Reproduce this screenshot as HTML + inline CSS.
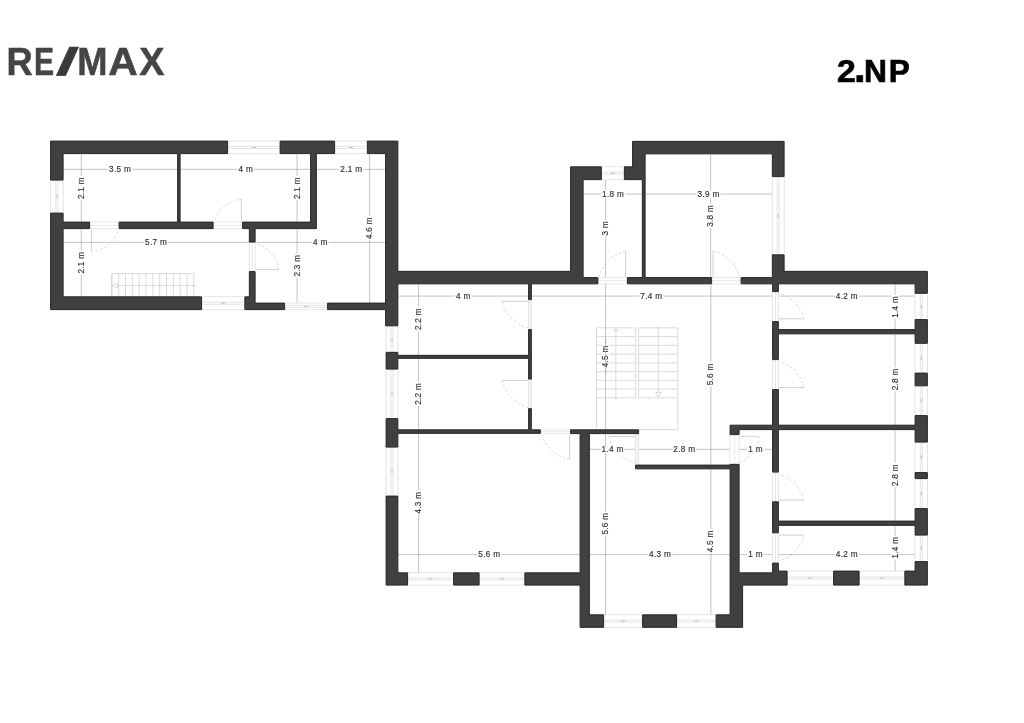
<!DOCTYPE html>
<html lang="cs"><head><meta charset="utf-8"><title>2.NP</title>
<style>html,body{margin:0;padding:0;background:#fff}body{width:1024px;height:723px;overflow:hidden;font-family:"Liberation Sans",sans-serif}svg{display:block;filter:grayscale(1)}.d{font-family:"Liberation Sans",sans-serif;font-size:8.2px;fill:#303030;text-anchor:middle;letter-spacing:0.3px;stroke:#303030;stroke-width:0.15}.w{fill:#404040;stroke:#262626;stroke-width:1;stroke-linejoin:miter}.dl{stroke:#a4a4a4;stroke-width:0.65;fill:none}.wl{stroke:#dcdcdc;stroke-width:0.8;fill:none}.dr{stroke:#bcbcbc;stroke-width:0.7;fill:none}.gf{stroke:#dcdcdc;stroke-width:0.7;fill:none}.da{stroke:#d0d0d0;stroke-width:0.8;fill:none;stroke-dasharray:2.6 2}.st{stroke:#cccccc;stroke-width:0.7;fill:none}</style></head><body>
<svg width="1024" height="723" viewBox="0 0 1024 723">
<rect width="1024" height="723" fill="#fff"/>
<g font-family="Liberation Sans, sans-serif" font-weight="700">
<g id="logo"><text transform="translate(6.5,75) scale(0.94,1)" font-size="38.6" fill="#454545" stroke="#454545" stroke-width="0.5">R</text><text transform="translate(34.0,75) scale(0.78,1)" font-size="38.6" fill="#454545" stroke="#454545" stroke-width="0.5">E</text><text transform="translate(55.7,75) skewX(-5) scale(1.95,1)" font-size="38.6" fill="#3a3a3a" stroke="#3a3a3a" stroke-width="0.5">/</text><text transform="translate(77.3,75) scale(0.94,1)" font-size="38.6" fill="#454545" stroke="#454545" stroke-width="0.5">M</text><text transform="translate(108.3,75) scale(1.06,1)" font-size="38.6" fill="#454545" stroke="#454545" stroke-width="0.5">A</text><text transform="translate(139.2,75) scale(0.98,1)" font-size="38.6" fill="#454545" stroke="#454545" stroke-width="0.5">X</text></g>
<g id="np"><text transform="translate(836.9,82.2) scale(1.08,1)" font-size="31.2" fill="#000" stroke="#000" stroke-width="0.7">2</text><text transform="translate(854.1,82.2) scale(1.0,1)" font-size="42" fill="#000" stroke="#000" stroke-width="0.7">.</text><text transform="translate(864.1,82.2) scale(1.02,1)" font-size="31.2" fill="#000" stroke="#000" stroke-width="0.7">N</text><text transform="translate(888.8,82.2) scale(1.01,1)" font-size="31.2" fill="#000" stroke="#000" stroke-width="0.7">P</text></g>
</g>
<g transform="translate(0.1,0.1)">
<g class="wl">
<path d="M228 140.9H279.5M228 146.25H279.5M228 148.25H279.5M228 153.6H279.5"/>
<path d="M251.75 147.25H255.75" stroke="#c8c8c8" stroke-width="1.2"/>
<path d="M335 140.9H366.75M335 146.25H366.75M335 148.25H366.75M335 153.6H366.75"/>
<path d="M348.875 147.25H352.875" stroke="#c8c8c8" stroke-width="1.2"/>
<path d="M202 296.65H244.25M202 302.125H244.25M202 304.125H244.25M202 309.6H244.25"/>
<path d="M221.125 303.125H225.125" stroke="#c8c8c8" stroke-width="1.2"/>
<path d="M285 302.9H327M285 305.25H327M285 307.25H327M285 309.6H327"/>
<path d="M304.0 306.25H308.0" stroke="#c8c8c8" stroke-width="1.2"/>
<path d="M601.75 166.65H623.75M601.75 172.125H623.75M601.75 174.125H623.75M601.75 179.6H623.75"/>
<path d="M610.75 173.125H614.75" stroke="#c8c8c8" stroke-width="1.2"/>
<path d="M408 572.65H453M408 577.875H453M408 579.875H453M408 585.1H453"/>
<path d="M428.5 578.875H432.5" stroke="#c8c8c8" stroke-width="1.2"/>
<path d="M479.5 572.65H524.25M479.5 577.875H524.25M479.5 579.875H524.25M479.5 585.1H524.25"/>
<path d="M499.875 578.875H503.875" stroke="#c8c8c8" stroke-width="1.2"/>
<path d="M604 614.65H642M604 620.0H642M604 622.0H642M604 627.35H642"/>
<path d="M621.0 621.0H625.0" stroke="#c8c8c8" stroke-width="1.2"/>
<path d="M677 614.65H715.5M677 620.0H715.5M677 622.0H715.5M677 627.35H715.5"/>
<path d="M694.25 621.0H698.25" stroke="#c8c8c8" stroke-width="1.2"/>
<path d="M787.5 570.9H833M787.5 577.0H833M787.5 579.0H833M787.5 585.1H833"/>
<path d="M808.25 578.0H812.25" stroke="#c8c8c8" stroke-width="1.2"/>
<path d="M859.5 570.9H904.25M859.5 577.0H904.25M859.5 579.0H904.25M859.5 585.1H904.25"/>
<path d="M879.875 578.0H883.875" stroke="#c8c8c8" stroke-width="1.2"/>
<path d="M50.4 180.5V212.5M55.75 180.5V212.5M57.75 180.5V212.5M63.1 180.5V212.5"/>
<path d="M56.75 194.5V198.5" stroke="#c8c8c8" stroke-width="1.2"/>
<path d="M385.9 326.25V352.25M390.875 326.25V352.25M392.875 326.25V352.25M397.85 326.25V352.25"/>
<path d="M391.875 337.25V341.25" stroke="#c8c8c8" stroke-width="1.2"/>
<path d="M385.9 369.5V418M390.875 369.5V418M392.875 369.5V418M397.85 369.5V418"/>
<path d="M391.875 391.75V395.75" stroke="#c8c8c8" stroke-width="1.2"/>
<path d="M385.9 447.5V495.5M390.875 447.5V495.5M392.875 447.5V495.5M397.85 447.5V495.5"/>
<path d="M391.875 469.5V473.5" stroke="#c8c8c8" stroke-width="1.2"/>
<path d="M772.15 177V254.25M777.125 177V254.25M779.125 177V254.25M784.1 177V254.25"/>
<path d="M778.125 213.625V217.625" stroke="#c8c8c8" stroke-width="1.2"/>
<path d="M914.9 293.75V319.5M920.125 293.75V319.5M922.125 293.75V319.5M927.35 293.75V319.5"/>
<path d="M921.125 304.625V308.625" stroke="#c8c8c8" stroke-width="1.2"/>
<path d="M914.9 343.75V372.5M920.125 343.75V372.5M922.125 343.75V372.5M927.35 343.75V372.5"/>
<path d="M921.125 356.125V360.125" stroke="#c8c8c8" stroke-width="1.2"/>
<path d="M914.9 386.25V415M920.125 386.25V415M922.125 386.25V415M927.35 386.25V415"/>
<path d="M921.125 398.625V402.625" stroke="#c8c8c8" stroke-width="1.2"/>
<path d="M914.9 442.5V472M920.125 442.5V472M922.125 442.5V472M927.35 442.5V472"/>
<path d="M921.125 455.25V459.25" stroke="#c8c8c8" stroke-width="1.2"/>
<path d="M914.9 479V508M920.125 479V508M922.125 479V508M927.35 479V508"/>
<path d="M921.125 491.5V495.5" stroke="#c8c8c8" stroke-width="1.2"/>
<path d="M914.9 535.5V561M920.125 535.5V561M922.125 535.5V561M927.35 535.5V561"/>
<path d="M921.125 546.25V550.25" stroke="#c8c8c8" stroke-width="1.2"/>
</g>
<g class="st">
<path d="M111.75 273.5H193.75M111.75 273.5V296.25"/>
<path d="M111.75 273.5V296.25"/>
<path d="M118.58 273.5V296.25"/>
<path d="M125.42 273.5V296.25"/>
<path d="M132.25 273.5V296.25"/>
<path d="M139.08 273.5V296.25"/>
<path d="M145.92 273.5V296.25"/>
<path d="M152.75 273.5V296.25"/>
<path d="M159.58 273.5V296.25"/>
<path d="M166.42 273.5V296.25"/>
<path d="M173.25 273.5V296.25"/>
<path d="M180.08 273.5V296.25"/>
<path d="M186.92 273.5V296.25"/>
<path d="M193.75 273.5V296.25"/>
<path d="M116.75 285.5H193.75"/>
<path d="M117.25 283L112.25 285.5L117.25 288Z"/>
<circle cx="193.75" cy="285.5" r="0.9"/>
<path d="M596.5 327.75V428.75M677.75 327.75V429.5H639"/>
<path d="M635.5 327.75V397.75M638.5 327.75V397.75"/>
<path d="M596.5 327.75H635.5M638.5 327.75H677.75"/>
<path d="M596.5 336.5H635.5M638.5 336.5H677.75"/>
<path d="M596.5 345.25H635.5M638.5 345.25H677.75"/>
<path d="M596.5 354.0H635.5M638.5 354.0H677.75"/>
<path d="M596.5 362.75H635.5M638.5 362.75H677.75"/>
<path d="M596.5 371.5H635.5M638.5 371.5H677.75"/>
<path d="M596.5 380.25H635.5M638.5 380.25H677.75"/>
<path d="M596.5 389.0H635.5M638.5 389.0H677.75"/>
<path d="M596.5 397.75H635.5M638.5 397.75H677.75"/>
<path d="M615.75 397.75V328.5M613.3 332L615.75 328.5L618.2 332"/>
<circle cx="615.75" cy="397.75" r="0.9"/>
<path d="M658.25 327.75V392.5M655.5 392.3H661L658.25 397.5Z"/>
<circle cx="658.25" cy="327.75" r="0.9"/>
</g>
<path class="gf" d="M90 221.9H118.5M90 225.25H118.5M90 228.6H118.5"/>
<path class="dr" d="M91.25 229L91.25 251.5"/>
<path class="da" d="M91.25 251.5A31.499999999999996 31.499999999999996 0 0 0 118.5 229"/>
<path class="gf" d="M213.5 221.9H242M213.5 225.25H242M213.5 228.6H242"/>
<path class="dr" d="M241.25 221.5L241.25 199"/>
<path class="da" d="M241.25 199A31.499999999999996 31.499999999999996 0 0 0 214.5 221.5"/>
<path class="gf" d="M249.15 242.5V271M252.125 242.5V271M255.1 242.5V271"/>
<path class="dr" d="M255.5 269.5L278.5 269.5"/>
<path class="da" d="M278.5 269.5A32.199999999999996 32.199999999999996 0 0 0 255.5 243"/>
<path class="gf" d="M598.25 277.4H626.75M598.25 280.625H626.75M598.25 283.85H626.75"/>
<path class="dr" d="M625.5 277L625.5 251"/>
<path class="da" d="M625.5 251A36.4 36.4 0 0 0 599 277"/>
<path class="gf" d="M712 277.4H740.5M712 280.625H740.5M712 283.85H740.5"/>
<path class="dr" d="M713 277L713 251"/>
<path class="da" d="M713 251A36.4 36.4 0 0 1 739.5 277"/>
<path class="gf" d="M528.4 300V329M529.875 300V329M531.35 300V329"/>
<path class="dr" d="M528 301.25L502 301.25"/>
<path class="da" d="M502 301.25A36.4 36.4 0 0 0 528 328"/>
<path class="gf" d="M528.4 379.5V408M529.875 379.5V408M531.35 379.5V408"/>
<path class="dr" d="M528 380.5L502 380.5"/>
<path class="da" d="M502 380.5A36.4 36.4 0 0 0 528 407.5"/>
<path class="gf" d="M540.75 429.65H570M540.75 431.5H570M540.75 433.35H570"/>
<path class="dr" d="M569.5 433.75L569.5 459.5"/>
<path class="da" d="M569.5 459.5A36.05 36.05 0 0 1 541.5 433.75"/>
<path class="gf" d="M635.4 434V464.5M637.0 434V464.5M638.6 434V464.5"/>
<path class="dr" d="M635 436.25L608.75 436.25"/>
<path class="da" d="M608.75 436.25A36.75 36.75 0 0 0 635 463"/>
<path class="gf" d="M729.9 435V463.75M734.5 435V463.75M739.1 435V463.75"/>
<path class="dr" d="M739.5 436.25L758.75 436.25"/>
<path class="da" d="M758.75 436.25A26.95 26.95 0 0 1 739.5 462"/>
<path class="gf" d="M772.4 292V321M775.375 292V321M778.35 292V321"/>
<path class="dr" d="M778.75 318.75L803.75 318.75"/>
<path class="da" d="M803.75 318.75A35.0 35.0 0 0 0 778.75 293"/>
<path class="gf" d="M772.4 360V389M775.375 360V389M778.35 360V389"/>
<path class="dr" d="M778.75 387.5L803.75 387.5"/>
<path class="da" d="M803.75 387.5A35.0 35.0 0 0 0 778.75 361.5"/>
<path class="gf" d="M772.4 472.5V501.25M775.375 472.5V501.25M778.35 472.5V501.25"/>
<path class="dr" d="M778.75 500L803.75 500"/>
<path class="da" d="M803.75 500A35.0 35.0 0 0 0 778.75 474"/>
<path class="gf" d="M772.4 533.25V562.5M775.375 533.25V562.5M778.35 533.25V562.5"/>
<path class="dr" d="M778.75 535L803.75 535"/>
<path class="da" d="M803.75 535A35.0 35.0 0 0 1 778.75 561"/>
<g class="dl">
<path d="M63.5 169.25H177"/>
<path d="M180.5 169.25H310"/>
<path d="M316.75 169.25H385"/>
<path d="M63.5 242.25H248.75"/>
<path d="M255.5 242.25H385"/>
<path d="M583.5 194H641.75"/>
<path d="M645.5 194H771.75"/>
<path d="M398.25 296H528"/>
<path d="M531.75 296H772"/>
<path d="M778.75 296H914.5"/>
<path d="M589.75 449.25H635"/>
<path d="M639 449.25H729.5"/>
<path d="M739.5 449.25H772"/>
<path d="M398.25 554.5H579.5"/>
<path d="M589.75 554.5H729.5"/>
<path d="M739.5 554.5H772"/>
<path d="M778.75 554.5H914.5"/>
<path d="M81.25 154V221.5"/>
<path d="M81.25 229V296.25"/>
<path d="M297 154V221.5"/>
<path d="M297 229V302.5"/>
<path d="M369.5 154V302.5"/>
<path d="M605.5 180V277"/>
<path d="M710.5 154.25V277"/>
<path d="M418.5 284.25V354.75"/>
<path d="M418.5 358.75V429.25"/>
<path d="M418.5 433.75V572.25"/>
<path d="M605.5 284.25V429.25"/>
<path d="M605.5 434V614.25"/>
<path d="M710.75 284.25V464.5"/>
<path d="M710.75 469.25V614.25"/>
<path d="M895 284.25V329"/>
<path d="M895 334.25V425"/>
<path d="M895 430.5V520.5"/>
<path d="M895 525.75V570.5"/>
</g>
<path class="w" fill-rule="evenodd" d="M927.25 585L927.25 561.5L915 561.5L915 571L904.75 571L904.75 585ZM927.25 478.5L927.25 472.5L915 472.5L915 478.5ZM915 535L927.25 535L927.25 508.5L915 508.5L915 521L778.25 521L778.25 501.75L772.5 501.75L772.5 532.75L778.25 532.75L778.25 525.25L915 525.25ZM915 385.75L927.25 385.75L927.25 373L915 373ZM772.5 359.5L778.25 359.5L778.25 333.75L915 333.75L915 343.25L927.25 343.25L927.25 319.5L915 319.5L915 329.5L778.25 329.5L778.25 321.5L772.5 321.5ZM772.5 283.75L772.5 291.5L778.25 291.5L778.25 283.75L915 283.75L915 293.25L927.25 293.25L927.25 271.25L784 271.25L784 254.75L772.25 254.75L772.25 277.5L741 277.5L741 283.75ZM730 434.5L739 434.5L739 429.5L772.5 429.5L772.5 472L778.25 472L778.25 429.5L915 429.5L915 442L927.25 442L927.25 415.5L915 415.5L915 425.1L778.25 425.1L778.25 389.5L772.5 389.5L772.5 425.1L730 425.1ZM833.5 585L859 585L859 571L833.5 571ZM730 614.75L716 614.75L716 627.25L742.5 627.25L742.5 585L787 585L787 571L778.25 571L778.25 563L772.5 563L772.5 572.75L739 572.75L739 464.25L730 464.25L730 465L635.5 465L635.5 468.75L730 468.75ZM632.5 166.75L624.25 166.75L624.25 179.5L642.25 179.5L642.25 277.5L627.25 277.5L627.25 283.75L711.5 283.75L711.5 277.5L645 277.5L645 153.75L772.25 153.75L772.25 176.5L784 176.5L784 141.25L632.5 141.25ZM642.5 627.25L676.5 627.25L676.5 614.75L642.5 614.75ZM524.75 585L580 585L580 627.25L603.5 627.25L603.5 614.75L589.25 614.75L589.25 433.5L638.5 433.5L638.5 429.75L570.5 429.75L570.5 433.5L580 433.5L580 572.75L524.75 572.75ZM367.25 141L367.25 153.5L385.5 153.5L385.5 303L327.5 303L327.5 309.5L385.5 309.5L385.5 325.75L397.75 325.75L397.75 283.75L528.5 283.75L528.5 299.5L531.25 299.5L531.25 283.75L597.75 283.75L597.75 277.5L583 277.5L583 179.5L601.25 179.5L601.25 166.75L570.5 166.75L570.5 271.25L397.75 271.25L397.75 141ZM386 447L397.75 447L397.75 433.25L540.25 433.25L540.25 429.75L531.25 429.75L531.25 408.5L528.5 408.5L528.5 429.75L397.75 429.75L397.75 418.5L386 418.5ZM386 369L397.75 369L397.75 358.25L528.5 358.25L528.5 379L531.25 379L531.25 329.5L528.5 329.5L528.5 355.25L397.75 355.25L397.75 352.25L386 352.25ZM453.5 585L479 585L479 572.75L453.5 572.75ZM397.75 572.75L397.75 496L386 496L386 585L407.5 585L407.5 572.75ZM242.5 228.5L249.25 228.5L249.25 242L255 242L255 228.5L316.25 228.5L316.25 153.5L334.5 153.5L334.5 141L280 141L280 153.5L310.5 153.5L310.5 222L242.5 222ZM284.5 309.5L284.5 303L255 303L255 271.5L249.25 271.5L249.25 296.75L244.75 296.75L244.75 309.5ZM177.5 153.5L177.5 222L119 222L119 228.5L213 228.5L213 222L180 222L180 153.5L227.5 153.5L227.5 141L50.5 141L50.5 180L63 180L63 153.5ZM63 213L50.5 213L50.5 309.5L201.5 309.5L201.5 296.75L63 296.75L63 228.5L89.5 228.5L89.5 222L63 222Z"/>
<rect x="107.93" y="165.75" width="24.15" height="7" fill="#fff"/>
<text class="d" x="120" y="172.15">3.5 m</text>
<rect x="237.37" y="165.75" width="16.76" height="7" fill="#fff"/>
<text class="d" x="245.75" y="172.15">4 m</text>
<rect x="339.18" y="165.75" width="24.15" height="7" fill="#fff"/>
<text class="d" x="351.25" y="172.15">2.1 m</text>
<rect x="143.93" y="238.75" width="24.15" height="7" fill="#fff"/>
<text class="d" x="156" y="245.15">5.7 m</text>
<rect x="311.87" y="238.75" width="16.76" height="7" fill="#fff"/>
<text class="d" x="320.25" y="245.15">4 m</text>
<rect x="600.93" y="190.50" width="24.15" height="7" fill="#fff"/>
<text class="d" x="613" y="196.90">1.8 m</text>
<rect x="696.43" y="190.50" width="24.15" height="7" fill="#fff"/>
<text class="d" x="708.5" y="196.90">3.9 m</text>
<rect x="454.87" y="292.50" width="16.76" height="7" fill="#fff"/>
<text class="d" x="463.25" y="298.90">4 m</text>
<rect x="639.18" y="292.50" width="24.15" height="7" fill="#fff"/>
<text class="d" x="651.25" y="298.90">7.4 m</text>
<rect x="834.68" y="292.50" width="24.15" height="7" fill="#fff"/>
<text class="d" x="846.75" y="298.90">4.2 m</text>
<rect x="600.43" y="445.75" width="24.15" height="7" fill="#fff"/>
<text class="d" x="612.5" y="452.15">1.4 m</text>
<rect x="672.18" y="445.75" width="24.15" height="7" fill="#fff"/>
<text class="d" x="684.25" y="452.15">2.8 m</text>
<rect x="747.12" y="445.75" width="16.76" height="7" fill="#fff"/>
<text class="d" x="755.5" y="452.15">1 m</text>
<rect x="477.18" y="551.00" width="24.15" height="7" fill="#fff"/>
<text class="d" x="489.25" y="557.40">5.6 m</text>
<rect x="647.93" y="551.00" width="24.15" height="7" fill="#fff"/>
<text class="d" x="660" y="557.40">4.3 m</text>
<rect x="747.12" y="551.00" width="16.76" height="7" fill="#fff"/>
<text class="d" x="755.5" y="557.40">1 m</text>
<rect x="834.68" y="551.00" width="24.15" height="7" fill="#fff"/>
<text class="d" x="846.75" y="557.40">4.2 m</text>
<rect x="77.75" y="175.93" width="7" height="24.15" fill="#fff"/>
<text class="d" transform="translate(83.75,188) rotate(-90)" x="0" y="0">2.1 m</text>
<rect x="77.75" y="250.43" width="7" height="24.15" fill="#fff"/>
<text class="d" transform="translate(83.75,262.5) rotate(-90)" x="0" y="0">2.1 m</text>
<rect x="293.50" y="175.93" width="7" height="24.15" fill="#fff"/>
<text class="d" transform="translate(299.50,188) rotate(-90)" x="0" y="0">2.1 m</text>
<rect x="293.50" y="253.43" width="7" height="24.15" fill="#fff"/>
<text class="d" transform="translate(299.50,265.5) rotate(-90)" x="0" y="0">2.3 m</text>
<rect x="366.00" y="215.93" width="7" height="24.15" fill="#fff"/>
<text class="d" transform="translate(372.00,228) rotate(-90)" x="0" y="0">4.6 m</text>
<rect x="602.00" y="219.62" width="7" height="16.76" fill="#fff"/>
<text class="d" transform="translate(608.00,228) rotate(-90)" x="0" y="0">3 m</text>
<rect x="707.00" y="203.68" width="7" height="24.15" fill="#fff"/>
<text class="d" transform="translate(713.00,215.75) rotate(-90)" x="0" y="0">3.8 m</text>
<rect x="415.00" y="306.93" width="7" height="24.15" fill="#fff"/>
<text class="d" transform="translate(421.00,319) rotate(-90)" x="0" y="0">2.2 m</text>
<rect x="415.00" y="381.68" width="7" height="24.15" fill="#fff"/>
<text class="d" transform="translate(421.00,393.75) rotate(-90)" x="0" y="0">2.2 m</text>
<rect x="415.00" y="490.43" width="7" height="24.15" fill="#fff"/>
<text class="d" transform="translate(421.00,502.5) rotate(-90)" x="0" y="0">4.3 m</text>
<rect x="602.00" y="344.18" width="7" height="24.15" fill="#fff"/>
<text class="d" transform="translate(608.00,356.25) rotate(-90)" x="0" y="0">4.5 m</text>
<rect x="602.00" y="511.43" width="7" height="24.15" fill="#fff"/>
<text class="d" transform="translate(608.00,523.5) rotate(-90)" x="0" y="0">5.6 m</text>
<rect x="707.25" y="362.18" width="7" height="24.15" fill="#fff"/>
<text class="d" transform="translate(713.25,374.25) rotate(-90)" x="0" y="0">5.6 m</text>
<rect x="707.25" y="529.18" width="7" height="24.15" fill="#fff"/>
<text class="d" transform="translate(713.25,541.25) rotate(-90)" x="0" y="0">4.5 m</text>
<rect x="891.50" y="294.68" width="7" height="24.15" fill="#fff"/>
<text class="d" transform="translate(897.50,306.75) rotate(-90)" x="0" y="0">1.4 m</text>
<rect x="891.50" y="367.18" width="7" height="24.15" fill="#fff"/>
<text class="d" transform="translate(897.50,379.25) rotate(-90)" x="0" y="0">2.8 m</text>
<rect x="891.50" y="462.93" width="7" height="24.15" fill="#fff"/>
<text class="d" transform="translate(897.50,475) rotate(-90)" x="0" y="0">2.8 m</text>
<rect x="891.50" y="535.43" width="7" height="24.15" fill="#fff"/>
<text class="d" transform="translate(897.50,547.5) rotate(-90)" x="0" y="0">1.4 m</text>
<path class="dl" d="M605.5 338V374"/>
</g>
</svg></body></html>
